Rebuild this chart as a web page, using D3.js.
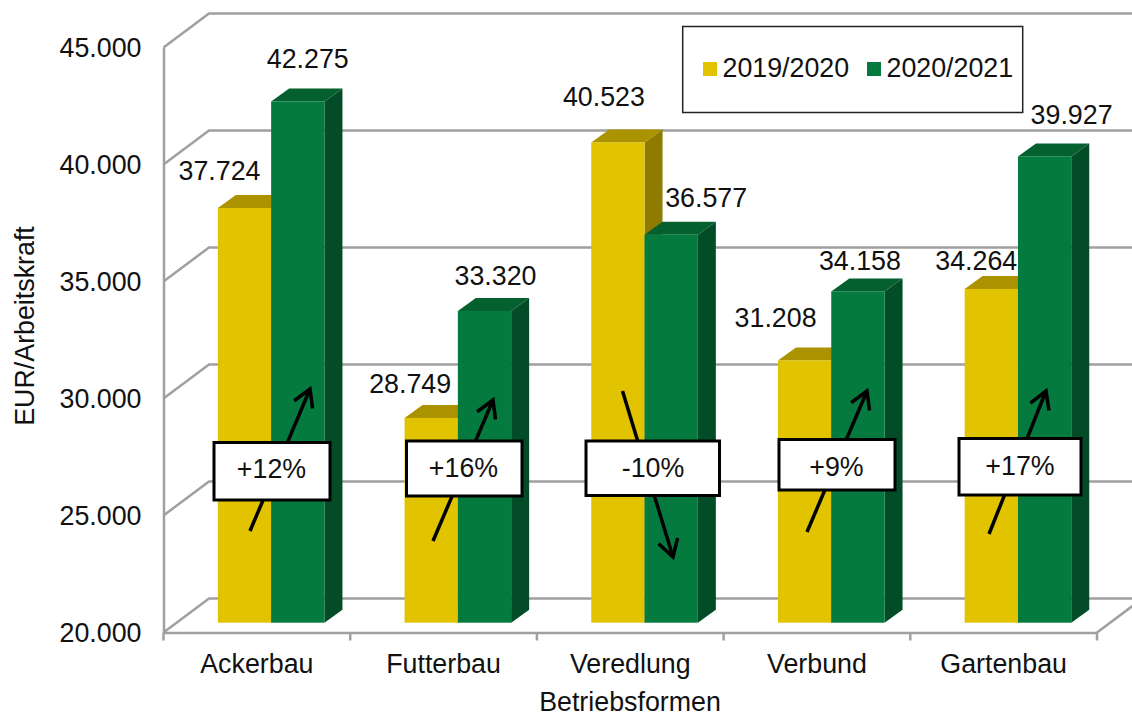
<!DOCTYPE html>
<html>
<head>
<meta charset="utf-8">
<script src="https://cdn.jsdelivr.net/npm/d3@7"></script>
<style>
  html, body { margin: 0; padding: 0; background: #fff; overflow: hidden; }
  text { font-family: "Liberation Sans", Arial, sans-serif; font-size: 26.8px; fill: #111; }
</style>
</head>
<body>
<svg></svg>
<script>
const categories = ["Ackerbau", "Futterbau", "Veredlung", "Verbund", "Gartenbau"];
const seriesNames = ["2019/2020", "2020/2021"];
const values2019 = [37724, 28749, 40523, 31208, 34264];
const values2020 = [42275, 33320, 36577, 34158, 39927];
const changes = ["+12%", "+16%", "-10%", "+9%", "+17%"];
const yTicks = [20000, 25000, 30000, 35000, 40000, 45000];

// label offsets from the top centre of each bar, placed by hand like in the original
const labelOffsets2019 = [[-25, -28], [-21, -25], [-14, -36], [-29, -33], [-15, -19]];
const labelOffsets2020 = [[10, -33.5], [11, -26], [35, -28], [2, -21], [27, -32]];

// hand drawn shapes on top of the chart: [x1, y1, x2, y2]
const arrows = [[250, 531, 310, 389], [433, 541, 493, 400], [622.5, 391, 673, 557], [807, 532, 867, 391], [989, 534, 1046, 391]];
// [left, top, right, bottom]
const boxes = [[214, 442.5, 330, 500], [406.5, 441, 522, 496], [586, 441, 719.5, 495.5], [779, 439.5, 895, 490], [959, 438.5, 1081, 495]];
// [centre, baseline]
const boxText = [[271.5, 478], [463.5, 477], [653, 477], [836.5, 476], [1020, 475]];

const w = 1132, h = 713;
const yellow = { front: "#e2c300", top: "#ab9300", side: "#8f7b00" };
const green = { front: "#047a3f", top: "#04602f", side: "#024d27" };
const gridColor = "#a0a0a0";

const frontLeft = 163.5, frontRight = 1097;
const wallDx = 45.5, wallDy = -34;
const barDx = 18, barDy = -13;

const svg = d3.select("svg").attr("width", w).attr("height", h).style("display", "block");

const yScale = d3.scaleLinear().domain([20000, 45000]).range([632.5, 47.5]);
const xScale = d3.scaleBand().domain(categories).range([frontLeft, frontRight]);
// the bars stand inside the floor, so they are moved a bit back
const barShift = 14.3, barLift = -9.8;
const barScale = d3.scaleBand().domain(categories).range([frontLeft + barShift, frontRight + barShift])
  .paddingInner(0.429).paddingOuter(0.2145);
const inner = d3.scaleBand().domain(seriesNames).range([0, barScale.bandwidth()]);

const fmt = d3.formatLocale({ decimal: ",", thousands: ".", grouping: [3], currency: ["", " EUR"] }).format(",d");

// back wall and floor
const grid = svg.append("g").attr("fill", "none").attr("stroke", gridColor).attr("stroke-width", 2.5);
yTicks.forEach(function(t) {
  grid.append("path")
    .attr("d", `M${frontLeft},${yScale(t)}L${frontLeft + wallDx},${yScale(t) + wallDy}L${frontRight + wallDx},${yScale(t) + wallDy}`);
});
grid.append("path")
  .attr("d", `M${frontRight},${yScale(20000)}L${frontRight + wallDx},${yScale(20000) + wallDy}`);

// y axis
const yAxisG = svg.append("g").attr("transform", `translate(${frontLeft},0)`)
  .call(d3.axisLeft(yScale).tickValues(yTicks).tickFormat(fmt).tickSize(0).tickPadding(22));
yAxisG.select(".domain").attr("stroke", gridColor).attr("stroke-width", 2.5);
yAxisG.selectAll("text").attr("dy", "0.34em");

// x axis, the ticks sit between the categories
const xAxisG = svg.append("g").attr("transform", `translate(0,${yScale(20000)})`)
  .call(d3.axisBottom(xScale).tickSize(0));
xAxisG.select(".domain").attr("stroke", gridColor).attr("stroke-width", 2.5);
xAxisG.selectAll("text").attr("dy", 0).attr("y", 40.5);
xAxisG.selectAll(".edge")
  .data(categories.map(c => xScale(c)).concat([frontRight]))
  .enter().append("line")
  .attr("x1", d => d).attr("x2", d => d)
  .attr("y1", 0).attr("y2", 8)
  .attr("stroke", gridColor).attr("stroke-width", 2.5);

// bars
function drawBar(cat, name, value, colors) {
  const x0 = barScale(cat) + inner(name);
  const x1 = x0 + inner.bandwidth();
  const yb = yScale(20000) + barLift;
  const yt = yScale(value) + barLift;
  svg.append("path").attr("fill", colors.side)
    .attr("d", `M${x1},${yb}L${x1},${yt}L${x1 + barDx},${yt + barDy}L${x1 + barDx},${yb + barDy}Z`);
  svg.append("path").attr("fill", colors.top)
    .attr("d", `M${x0},${yt}L${x0 + barDx},${yt + barDy}L${x1 + barDx},${yt + barDy}L${x1},${yt}Z`);
  svg.append("rect").attr("fill", colors.front)
    .attr("x", x0).attr("y", yt).attr("width", x1 - x0).attr("height", yb - yt);
}
categories.forEach(function(c, i) {
  drawBar(c, seriesNames[0], values2019[i], yellow);
  drawBar(c, seriesNames[1], values2020[i], green);
});

// data labels
function drawLabels(name, vals, offsets) {
  svg.append("g").selectAll("text")
    .data(vals)
    .enter().append("text")
    .attr("text-anchor", "middle")
    .attr("x", (d, i) => barScale(categories[i]) + inner(name) + inner.bandwidth() / 2 + offsets[i][0])
    .attr("y", (d, i) => yScale(d) + barLift + offsets[i][1])
    .text(d => fmt(d));
}
drawLabels(seriesNames[0], values2019, labelOffsets2019);
drawLabels(seriesNames[1], values2020, labelOffsets2020);

// arrows
svg.append("defs").append("marker")
  .attr("id", "head")
  .attr("markerUnits", "userSpaceOnUse")
  .attr("viewBox", "-20 -14 24 28")
  .attr("markerWidth", 24).attr("markerHeight", 28)
  .attr("refX", 0).attr("refY", 0)
  .attr("orient", "auto")
  .append("path")
  .attr("d", "M-17,-10L0,0L-17,10")
  .attr("fill", "none").attr("stroke", "#000").attr("stroke-width", 3.5);

svg.append("g").selectAll("line")
  .data(arrows)
  .enter().append("line")
  .attr("x1", d => d[0]).attr("y1", d => d[1])
  .attr("x2", d => d[2]).attr("y2", d => d[3])
  .attr("stroke", "#000").attr("stroke-width", 3.5)
  .attr("marker-end", "url(#head)");

// change boxes
svg.append("g").selectAll("rect")
  .data(boxes)
  .enter().append("rect")
  .attr("x", d => d[0]).attr("y", d => d[1])
  .attr("width", d => d[2] - d[0]).attr("height", d => d[3] - d[1])
  .attr("fill", "#fff").attr("stroke", "#000").attr("stroke-width", 3);
svg.append("g").selectAll("text")
  .data(changes)
  .enter().append("text")
  .attr("text-anchor", "middle")
  .attr("x", (d, i) => boxText[i][0])
  .attr("y", (d, i) => boxText[i][1])
  .text(d => d);

// legend
svg.append("rect").attr("x", 682.7).attr("y", 26.5).attr("width", 340).attr("height", 86)
  .attr("fill", "#fff").attr("stroke", "#222").attr("stroke-width", 1.5);
[[703, yellow.front, 722.5], [867, green.front, 886.5]].forEach(function(l, i) {
  svg.append("rect").attr("x", l[0]).attr("y", 62).attr("width", 14).attr("height", 14).attr("fill", l[1]);
  svg.append("text").attr("x", l[2]).attr("y", 77).text(seriesNames[i]);
});

// axis titles
svg.append("text").attr("text-anchor", "middle").attr("x", 630).attr("y", 711).text("Betriebsformen");
svg.append("text").attr("text-anchor", "middle")
  .attr("transform", "translate(34,326)rotate(-90)")
  .text("EUR/Arbeitskraft");
</script>
</body>
</html>
